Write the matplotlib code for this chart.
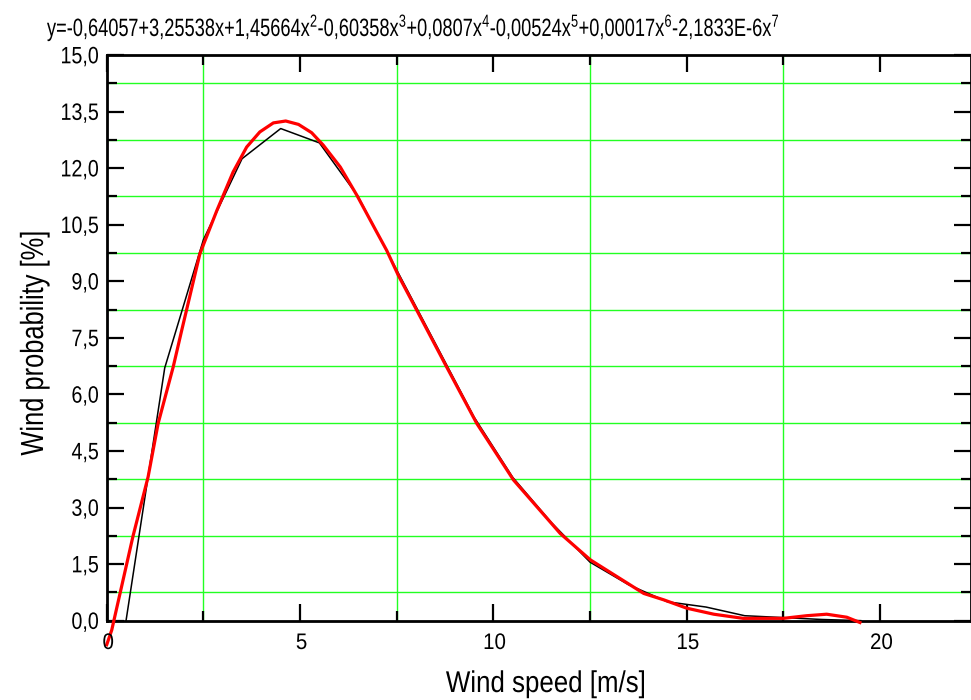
import numpy as np
import matplotlib
matplotlib.use("Agg")
import matplotlib.pyplot as plt
from matplotlib.ticker import MultipleLocator
from matplotlib.textpath import TextPath
from matplotlib.patches import PathPatch
from matplotlib.font_manager import FontProperties
from matplotlib.transforms import Affine2D, IdentityTransform

plt.rcParams['font.family'] = ['Liberation Sans', 'DejaVu Sans']
plt.rcParams['mathtext.fontset'] = 'custom'
plt.rcParams['mathtext.rm'] = 'Liberation Sans'
plt.rcParams['mathtext.default'] = 'rm'

# measured wind probability (black polyline)
speed = [0.5, 1.5, 2.5, 3.5, 4.5, 5.5, 6.5, 7.5, 8.5, 9.5,
         10.5, 11.5, 12.5, 13.5, 14.5, 15.5, 16.5, 17.5, 18.5, 19.5]
prob = [0.0, 6.7, 10.1, 12.25, 13.05, 12.67, 11.25, 9.3, 7.35, 5.4,
        3.8, 2.6, 1.55, 0.95, 0.5, 0.36, 0.13, 0.08, 0.03, 0.0]

# polynomial fit (red curve)
fit_x = [0.0, 0.13, 0.68, 1.07, 1.33, 1.72, 1.94, 2.41, 2.85, 3.27, 3.62,
         3.96, 4.31, 4.63, 4.96, 5.30, 5.60, 6.04, 6.47, 6.98, 7.24, 7.54,
         8.02, 8.79, 9.57, 10.52, 11.73, 12.51, 13.89, 14.41, 15.0, 15.7,
         16.46, 17.5, 18.1, 18.62, 19.14, 19.48]
fit_y = [-0.64, -0.25, 2.24, 3.81, 5.23, 6.73, 7.70, 9.73, 10.88, 11.90, 12.56,
         12.96, 13.20, 13.25, 13.16, 12.94, 12.61, 12.03, 11.28, 10.31, 9.82, 9.16,
         8.23, 6.73, 5.23, 3.73, 2.31, 1.61, 0.72, 0.55, 0.33, 0.17,
         0.06, 0.06, 0.13, 0.17, 0.09, -0.05]

xticks = [0, 5, 10, 15, 20]
yticks = [0.0, 1.5, 3.0, 4.5, 6.0, 7.5, 9.0, 10.5, 12.0, 13.5, 15.0]
ytick_labels = ["0,0", "1,5", "3,0", "4,5", "6,0", "7,5", "9,0",
                "10,5", "12,0", "13,5", "15,0"]

title = ("y=-0,64057+3,25538x+1,45664x$^2$-0,60358x$^3$+0,0807x$^4$"
         "-0,00524x$^5$+0,00017x$^6$-2,1833E-6x$^7$")

W, H = 971, 700
FP = FontProperties(family='Liberation Sans')

fig = plt.figure(figsize=(W / 100, H / 100), dpi=100)
ax = fig.add_axes([0.1099, 0.1134, 0.8896, 0.808])


def narrow_text(s, em, x, y, ha='left', sx=None, width=None, rot=0):
    # the original uses a condensed face, so squeeze a text path horizontally
    path = TextPath((0, 0), s, size=em, prop=FP)
    ext = path.get_extents()
    if sx is None:
        sx = width / ext.width
    if ha == 'left':
        x0 = ext.x0
    elif ha == 'right':
        x0 = ext.x1
    else:
        x0 = (ext.x0 + ext.x1) / 2
    tr = Affine2D().translate(-x0, 0).scale(sx, 1).rotate_deg(rot).translate(x, H - y)
    p = PathPatch(tr.transform_path(path), fc='black', ec='none', lw=0,
                  transform=IdentityTransform(), zorder=10)
    fig.add_artist(p)
    return sx


ax.plot(speed, prob, color='black', lw=1.1, zorder=3)
ax.plot(fit_x, fit_y, color='#ff0000', lw=2.3, zorder=4, clip_on=False)

ax.set_xlim(0, 22.34)
ax.set_ylim(0, 15)

ax.set_xticks(xticks)
ax.set_yticks(yticks)
ax.xaxis.set_minor_locator(MultipleLocator(2.5))
ax.yaxis.set_minor_locator(MultipleLocator(0.75))

ax.grid(which='minor', color='#22ff22', lw=1.0)
ax.grid(which='major', visible=False)
ax.set_axisbelow(True)

ax.tick_params(which='both', direction='in', top=True, right=True, width=1.6,
               labelbottom=False, labelleft=False)
ax.tick_params(which='major', length=12)
ax.tick_params(which='minor', length=7)
for s in ax.spines.values():
    s.set_linewidth(2)

# tick labels
digit_h = TextPath((0, 0), "0", size=23.7, prop=FP).get_extents().y1
sx_y = None
for v, lab in zip(yticks, ytick_labels):
    px, py = ax.transData.transform((0, v))
    if sx_y is None:
        sx_y = 36 / TextPath((0, 0), "15,0", size=23.7, prop=FP).get_extents().width
    narrow_text(lab, 23.7, 98, H - py + digit_h / 2, ha='right', sx=sx_y)

sx_x = 21 / TextPath((0, 0), "20", size=22.5, prop=FP).get_extents().width
for v in xticks:
    px, py = ax.transData.transform((v, 0))
    narrow_text(str(v), 22.5, px + 1.5, 649, ha='center', sx=sx_x)

# axis labels and title
narrow_text("Wind speed [m/s]", 30, 545, 692, ha='center', width=198)
narrow_text("Wind probability [%]", 32, 43, 344, ha='center', width=223, rot=90)
narrow_text(title, 25, 47, 36, ha='left', width=731)

fig.savefig("out.png", dpi=100)
